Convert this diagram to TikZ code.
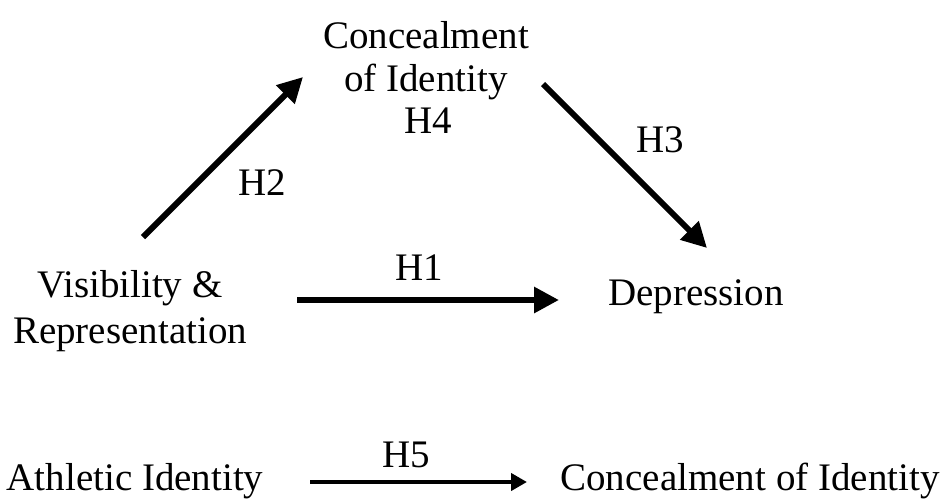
\documentclass[tikz,border=0pt]{standalone}
\usepackage{fontspec}
\setmainfont{Liberation Serif}
\usetikzlibrary{arrows.meta}
\begin{document}
\begin{tikzpicture}[x=1pt,y=-1pt,
  lbl/.style={inner sep=0pt,outer sep=0pt,font=\fontsize{39}{43}\selectfont},
  arr/.style={line width=6pt,-{Triangle[length=25pt,width=25pt]}},
  arrsm/.style={line width=4pt,-{Triangle[length=16pt,width=17pt]}}]
\useasboundingbox (0,0) rectangle (947,499);
% nodes
\node[lbl,anchor=base] (c1) at (426,48) {Concealment};
\node[lbl,anchor=base] (c2) at (426,91) {of Identity};
\node[lbl,anchor=base] (h4) at (428,133) {H4};
\node[lbl,anchor=base] (v1) at (130,297) {Visibility \&};
\node[lbl,anchor=base] (v2) at (130,343) {Representation};
\node[lbl,anchor=base] (dep) at (696,305) {Depression};
\node[lbl,anchor=base] (h1) at (419,280) {H1};
\node[lbl,anchor=base] (h2) at (262,195) {H2};
\node[lbl,anchor=base] (h3) at (660,152) {H3};
\node[lbl,anchor=base] (ath) at (135,490) {Athletic Identity};
\node[lbl,anchor=base] (h5) at (406,467) {H5};
\node[lbl,anchor=base] (con) at (750,490) {Concealment of Identity};
% arrow ends
\coordinate (a2s) at (143,237);
\coordinate (a2e) at (303,77);
\coordinate (a3s) at (543,84);
\coordinate (a3e) at (707,248);
\coordinate (a1s) at (297,300);
\coordinate (a1e) at (559,300);
\coordinate (a5s) at (310,482);
\coordinate (a5e) at (527,482);
\draw[arr] (a2s) -- (a2e);
\draw[arr] (a3s) -- (a3e);
\draw[arr] (a1s) -- (a1e);
\draw[arrsm] (a5s) -- (a5e);
\end{tikzpicture}
\end{document}
